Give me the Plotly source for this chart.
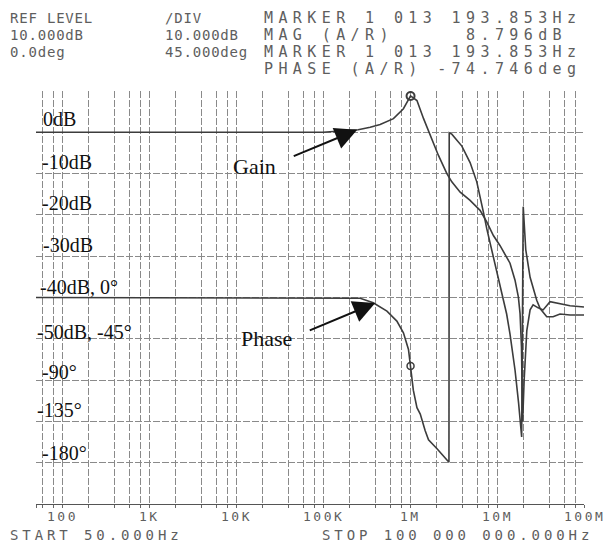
import math
import plotly.graph_objects as go

# ---------------- data ----------------
gain_freq_hz = [50, 1e3, 1e4, 1e5, 1.57e5, 2.53e5, 3.48e5, 4.53e5, 6.44e5, 8.39e5,
                1.013e6, 1.2e6, 1.43e6, 1.70e6, 2.12e6, 2.65e6, 3.02e6, 3.77e6, 4.90e6,
                6.38e6, 7.62e6, 9.08e6, 1.08e7, 1.41e7, 1.61e7, 1.76e7, 1.84e7, 1.91e7,
                1.97e7, 2.05e7, 2.20e7, 2.40e7, 2.60e7, 2.97e7, 3.39e7, 4.07e7, 5.30e7,
                6.90e7, 1e8]
gain_db = [0, 0, 0, 0, 0.3, 0.6, 1.2, 1.9, 3.3, 5.7,
           8.8, 7.7, 3.3, -0.8, -5.6, -10, -12, -14.5, -16.5,
           -18.9, -21.7, -25, -27.4, -31.7, -35.8, -39.9, -43.9, -52,
           -70, -60, -48, -43, -41.8, -42.5, -43, -41, -41.5,
           -42, -42.3]

phase_freq_hz = [50, 1e3, 1e4, 1e5, 2.05e5, 2.67e5, 3.77e5, 5.42e5, 7.05e5, 8.39e5,
                 9.59e5, 1.013e6, 1.09e6, 1.2e6, 1.31e6, 1.49e6, 1.63e6, 2.03e6, 2.4e6,
                 2.80e6, 2.82e6, 3.02e6, 3.94e6, 4.90e6, 5.85e6, 6.38e6, 6.97e6, 7.62e6,
                 8.31e6, 9.93e6, 1.17e7, 1.29e7, 1.41e7, 1.61e7, 1.77e7, 1.92e7, 2.0e7,
                 2.14e7, 2.40e7, 2.86e7, 3.13e7, 3.41e7, 3.73e7, 4.41e7, 5.30e7, 6.90e7, 1e8]
phase_deg = [0, 0, 0, 0, 0, -0.8, -5.7, -14.8, -25.7, -38.4,
             -56.6, -74.7, -101, -120, -127, -145, -155, -164.6, -172,
             -179.5, 179.5, 178, 165, 147, 126, 111, 93, 75,
             60, 29, 0, -18, -40, -79, -115, -152, 99,
             52, 22, -3, -12, -16, -21, -21, -18, -19, -19]

marker_freq_hz = [1.013e6]
marker_gain_db = [8.796]
marker_phase_deg = [-74.746]

decade_ticks = [100, 1e3, 1e4, 1e5, 1e6, 1e7, 1e8]
decade_labels = ["100", "1K", "10K", "100K", "1M", "10M", "100M"]
grid_mults = [1, 2, 4, 6, 8]

gain_labels = ["0dB", "-10dB", "-20dB", "-30dB", "-40dB, 0°",
               "-50dB, -45°", "-90°", "-135°", "-180°"]
header_left = [
    ["REF LEVEL", "/DIV"],
    ["10.000dB", "10.000dB"],
    ["0.0deg", "45.000deg"],
]
header_right = [
    "MARKER 1 013 193.853Hz",
    "MAG (A/R)     8.796dB",
    "MARKER 1 013 193.853Hz",
    "PHASE (A/R) -74.746deg",
]
start_text = "START 50.000Hz"
stop_text = "STOP 100 000 000.000Hz"

# ---------------- layout geometry ----------------
W, H = 605, 545
L, R, T, B = 36, 584, 91, 504
PW, PH = R - L, B - T


def px(X):
    return (X - L) / PW


def py(Y):
    return (B - Y) / PH


def spaced(s, sp):
    return '<span style="letter-spacing:%spx">%s</span>' % (sp, s.replace(" ", "&nbsp;"))


INK = "#3c3c3c"
PRINT = "#5e5e5e"
GRID = "#8a8a8a"

# gridline positions (labels drawn separately as annotations at the decades)
grid_vals = [50, 60, 80]
for d in decade_ticks[:-1]:
    for m in grid_mults:
        grid_vals.append(d * m)
grid_vals.append(1e8)
grid_vals = sorted(set(grid_vals))

fig = go.Figure()
fig.add_trace(go.Scatter(x=gain_freq_hz, y=gain_db, mode="lines",
                         line=dict(color=INK, width=1.6), yaxis="y",
                         showlegend=False, hoverinfo="skip"))
fig.add_trace(go.Scatter(x=phase_freq_hz, y=phase_deg, mode="lines",
                         line=dict(color=INK, width=1.6), yaxis="y2",
                         showlegend=False, hoverinfo="skip"))
fig.add_trace(go.Scatter(x=marker_freq_hz, y=marker_gain_db, mode="markers",
                         marker=dict(symbol="circle-open", size=8, color=INK,
                                     line=dict(width=2, color=INK)),
                         yaxis="y", showlegend=False, hoverinfo="skip"))
fig.add_trace(go.Scatter(x=marker_freq_hz, y=marker_phase_deg, mode="markers",
                         marker=dict(symbol="circle-open", size=7, color=INK,
                                     line=dict(width=1.5, color=INK)),
                         yaxis="y2", showlegend=False, hoverinfo="skip"))

annotations = []
serif = "Liberation Serif, Times New Roman, serif"
mono = "DejaVu Sans Mono, monospace"

# decade tick labels (in data coordinates of the x axis)
for v, lab in zip(decade_ticks, decade_labels):
    annotations.append(dict(text=spaced(lab, 2.5), xref="x", yref="paper",
                            x=math.log10(v), y=py(516), xanchor="center",
                            yanchor="middle", showarrow=False,
                            font=dict(family=mono, size=13, color=PRINT)))

# y labels inside plot
label_pos = [(41, 119), (40, 161.5), (40, 203), (41, 245), (38, 286.5),
             (35, 332), (40, 371.5), (35, 410), (40, 453)]
for txt, (X, Y) in zip(gain_labels, label_pos):
    annotations.append(dict(text=txt, xref="paper", yref="paper", x=px(X), y=py(Y),
                            xanchor="left", yanchor="middle", showarrow=False,
                            font=dict(family=serif, size=20, color="#111")))

annotations.append(dict(text="Gain", xref="paper", yref="paper", x=px(254), y=py(166),
                        xanchor="center", yanchor="middle", showarrow=False,
                        font=dict(family=serif, size=22, color="#111")))
annotations.append(dict(text="Phase", xref="paper", yref="paper", x=px(266), y=py(338),
                        xanchor="center", yanchor="middle", showarrow=False,
                        font=dict(family=serif, size=22, color="#111")))

# arrows
annotations.append(dict(text="", xref="x", yref="y", x=math.log10(2.47e5), y=0.6,
                        ax=-65, ay=27, showarrow=True, arrowhead=2, arrowsize=2.2,
                        arrowwidth=2, arrowcolor="#111"))
annotations.append(dict(text="", xref="x", yref="y2", x=math.log10(3.98e5), y=-6,
                        ax=-67, ay=28, showarrow=True, arrowhead=2, arrowsize=2.2,
                        arrowwidth=2, arrowcolor="#111"))

# header printed text
col_x = [8, 163]
row_y = [18, 35, 52, 69]
for r, row in enumerate(header_left):
    for c, txt in enumerate(row):
        annotations.append(dict(text=spaced(txt, 0.8), xref="paper",
                                yref="paper", x=px(col_x[c]), y=py(row_y[r]),
                                xanchor="left", yanchor="middle", showarrow=False,
                                font=dict(family=mono, size=14, color=PRINT)))
for r, txt in enumerate(header_right):
    annotations.append(dict(text=spaced(txt, 5.4), xref="paper",
                            yref="paper", x=px(262), y=py(row_y[r]),
                            xanchor="left", yanchor="middle", showarrow=False,
                            font=dict(family=mono, size=15, color=PRINT)))

annotations.append(dict(text=spaced(start_text, 3.9), xref="paper", yref="paper",
                        x=px(8), y=py(535), xanchor="left", yanchor="middle",
                        showarrow=False, font=dict(family=mono, size=14, color=PRINT)))
annotations.append(dict(text=spaced(stop_text, 3.9), xref="paper", yref="paper",
                        x=px(320), y=py(535), xanchor="left", yanchor="middle",
                        showarrow=False, font=dict(family=mono, size=14, color=PRINT)))

fig.update_layout(
    width=W, height=H,
    margin=dict(l=L, r=W - R, t=T, b=H - B, autoexpand=False),
    paper_bgcolor="white", plot_bgcolor="white",
    xaxis=dict(type="log", range=[math.log10(50), 8], tickmode="array",
               tickvals=grid_vals, showticklabels=False, automargin=False,
               showgrid=True, gridcolor=GRID, gridwidth=1, griddash="7px,2px",
               ticks="outside", ticklen=3, tickcolor="#666",
               showline=True, linecolor="#555", linewidth=1,
               zeroline=False, fixedrange=True),
    yaxis=dict(range=[-90, 10], tickmode="array", tickvals=list(range(-90, 11, 10)),
               showticklabels=False, showgrid=True, gridcolor=GRID, gridwidth=1,
               griddash="7px,2px", zeroline=False, ticks="", automargin=False),
    yaxis2=dict(range=[-225, 225], overlaying="y", side="right", visible=False,
                showgrid=False, zeroline=False),
    annotations=annotations,
)

fig.write_html("out.html")
